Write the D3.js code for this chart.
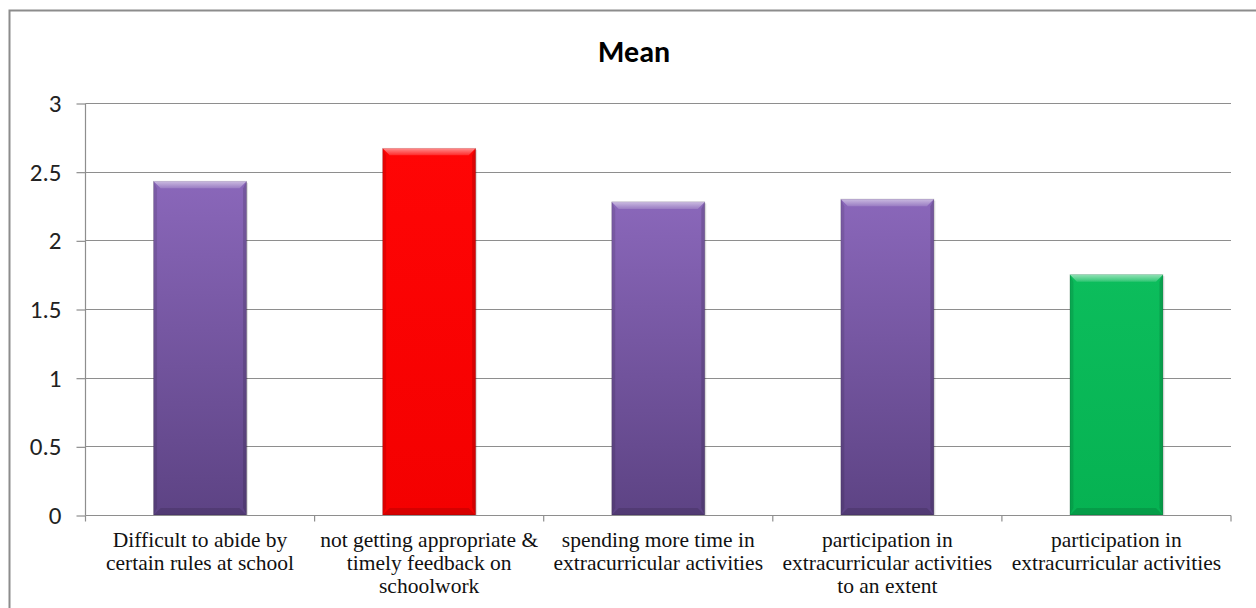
<!DOCTYPE html>
<html>
<head>
<meta charset="utf-8">
<script src="https://cdn.jsdelivr.net/npm/d3@7"></script>
<style>
  body { margin: 0; background: #fff; }
  svg { display: block; }
</style>
</head>
<body>
<svg></svg>
<script>
// Data
const categories = [
  "Difficult to abide by\ncertain rules at school",
  "not getting appropriate &\ntimely feedback on\nschoolwork",
  "spending more time in\nextracurricular activities",
  "participation in\nextracurricular activities\nto an extent",
  "participation in\nextracurricular activities"
];
const means = [2.43, 2.67, 2.28, 2.30, 1.75];
const yTicks = [0, 0.5, 1, 1.5, 2, 2.5, 3];
const title = "Mean";

// colour per bar (purple, red, purple, purple, green)
const barFill = ["purple", "red", "purple", "purple", "green"];

const width = 1256;
const height = 608;
const margin = { top: 103, right: 25, bottom: 93, left: 85.5 };

const svg = d3.select("svg")
  .attr("width", width)
  .attr("height", height);

const defs = svg.append("defs");

const grads = {
  purple: ["#8a67ba", "#5d4384"],
  red: ["#ff0505", "#f40000"],
  green: ["#0cbd5c", "#06b252"]
};
Object.entries(grads).forEach(([k, c]) => {
  const g = defs.append("linearGradient")
    .attr("id", "g-" + k)
    .attr("x1", 0).attr("y1", 0).attr("x2", 0).attr("y2", 1);
  g.append("stop").attr("offset", "0%").attr("stop-color", c[0]);
  g.append("stop").attr("offset", "100%").attr("stop-color", c[1]);
});
const hi = defs.append("linearGradient")
  .attr("id", "bevel-top")
  .attr("x1", 0).attr("y1", 0).attr("x2", 0).attr("y2", 1);
hi.append("stop").attr("offset", "0%").attr("stop-color", "#fff").attr("stop-opacity", 0.55);
hi.append("stop").attr("offset", "100%").attr("stop-color", "#fff").attr("stop-opacity", 0.15);

// outer chart border
svg.append("rect")
  .attr("x", 9.5)
  .attr("y", 10.5)
  .attr("width", width + 20)
  .attr("height", height + 20)
  .attr("fill", "none")
  .attr("stroke", "#8c8c8c")
  .attr("stroke-width", 2);

// title
svg.append("text")
  .attr("x", 634)
  .attr("y", 62)
  .attr("text-anchor", "middle")
  .style("font-family", "Carlito, Calibri, Lato, sans-serif")
  .style("font-size", "30px")
  .style("font-weight", "bold")
  .text(title);

const x0 = margin.left;
const x1 = width - margin.right;
const yTop = margin.top;
const yBot = height - margin.bottom;

// Scales
const xScale = d3.scaleBand()
  .domain(categories)
  .range([x0, x1])
  .padding(0);

const yScale = d3.scaleLinear()
  .domain([0, 3])
  .range([yBot, yTop]);

// gridlines
svg.append("g")
  .selectAll("line")
  .data(yTicks.filter(d => d > 0))
  .join("line")
  .attr("x1", x0)
  .attr("x2", x1)
  .attr("y1", d => Math.round(yScale(d)) + 0.5)
  .attr("y2", d => Math.round(yScale(d)) + 0.5)
  .attr("stroke", "#8e8e8e")
  .attr("stroke-width", 1.2);

// y axis
const yAxis = svg.append("g")
  .attr("transform", `translate(${x0}, 0.5)`)
  .call(d3.axisLeft(yScale)
    .tickValues(yTicks)
    .tickFormat(d => String(d))
    .tickSize(9)
    .tickPadding(15));
yAxis.selectAll("path, line").attr("stroke", "#8e8e8e").attr("stroke-width", 1.2);
yAxis.select(".domain").attr("d", `M0,${yTop}V${yBot}`);
yAxis.selectAll("text")
  .attr("fill", "#222")
  .style("font-family", "Carlito, Calibri, Lato, sans-serif")
  .style("font-size", "25px");

// bars
const barW = xScale.bandwidth() * 0.406;
const bv = 7;
const bars = svg.append("g")
  .selectAll("g")
  .data(categories.map((c, i) => ({ cat: c, v: means[i], fill: barFill[i] })))
  .join("g");

bars.each(function (d) {
  const g = d3.select(this);
  const bx = xScale(d.cat) + (xScale.bandwidth() - barW) / 2;
  const by = yScale(d.v);
  const bh = yBot - by;
  g.append("rect")
    .attr("x", bx + 1.5).attr("y", by + 1.5)
    .attr("width", barW).attr("height", bh - 1.5)
    .attr("fill", "#000").attr("opacity", 0.12);
  g.append("rect")
    .attr("x", bx).attr("y", by)
    .attr("width", barW).attr("height", bh)
    .attr("fill", `url(#g-${d.fill})`)
    .attr("stroke", "rgba(0,0,0,0.18)")
    .attr("stroke-width", 0.8);
  // top bevel
  g.append("path")
    .attr("d", `M${bx},${by}H${bx + barW}L${bx + barW - bv},${by + bv}H${bx + bv}Z`)
    .attr("fill", "url(#bevel-top)");
  // side bevels
  g.append("path")
    .attr("d", `M${bx},${by}L${bx + bv * 0.5},${by + bv}V${yBot - bv}L${bx},${yBot}Z`)
    .attr("fill", "#000").attr("opacity", 0.1);
  g.append("path")
    .attr("d", `M${bx + barW},${by}L${bx + barW - bv * 0.5},${by + bv}V${yBot - bv}L${bx + barW},${yBot}Z`)
    .attr("fill", "#000").attr("opacity", 0.14);
  // bottom bevel
  g.append("path")
    .attr("d", `M${bx},${yBot}H${bx + barW}L${bx + barW - bv},${yBot - bv}H${bx + bv}Z`)
    .attr("fill", "#000").attr("opacity", 0.12);
});

// x axis
const xAxis = svg.append("g")
  .attr("transform", `translate(0, ${Math.round(yBot) + 0.5})`);
xAxis.append("line")
  .attr("x1", x0).attr("x2", x1)
  .attr("stroke", "#8e8e8e").attr("stroke-width", 1.2);
const bounds = categories.map(c => xScale(c)).concat([x1]);
xAxis.selectAll(".tk")
  .data(bounds)
  .join("line")
  .attr("class", "tk")
  .attr("x1", d => d).attr("x2", d => d)
  .attr("y1", 0).attr("y2", 6)
  .attr("stroke", "#8e8e8e").attr("stroke-width", 1.2);

const labels = xAxis.selectAll(".lbl")
  .data(categories)
  .join("text")
  .attr("class", "lbl")
  .attr("x", d => xScale(d) + xScale.bandwidth() / 2)
  .attr("y", 31)
  .attr("text-anchor", "middle")
  .attr("fill", "#111")
  .style("font-family", "'Liberation Serif', 'Times New Roman', serif")
  .style("font-size", "21.5px");
labels.each(function (d) {
  const t = d3.select(this);
  d.split("\n").forEach((line, i) => {
    t.append("tspan")
      .attr("x", xScale(d) + xScale.bandwidth() / 2)
      .attr("dy", i === 0 ? 0 : 23)
      .text(line);
  });
});
</script>
</body>
</html>
